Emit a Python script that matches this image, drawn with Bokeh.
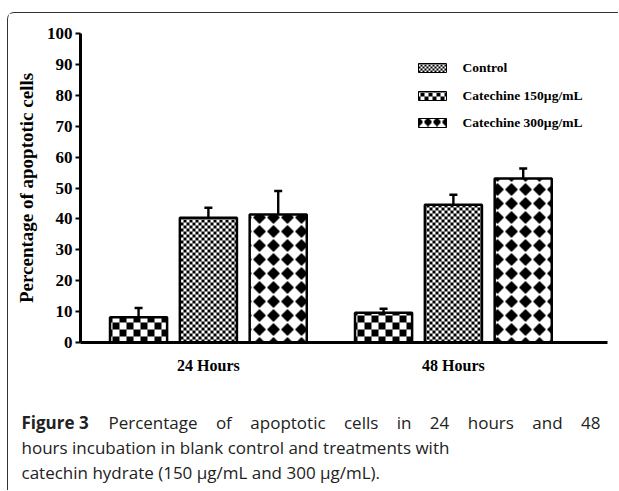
import numpy as np
from bokeh.plotting import figure
from bokeh.layouts import column
from bokeh.models import Range1d, FixedTicker, Whisker, ColumnDataSource, TeeHead
from bokeh.core.properties import value
from bokeh.embed import file_html
from bokeh.resources import INLINE

# ---------------- data ----------------
groups = ["24 Hours", "48 Hours"]
series_names = ["Control", "Catechine 150µg/mL", "Catechine 300µg/mL"]
control = [8.2, 9.6]
cat150 = [40.4, 44.6]
cat300 = [41.4, 53.1]
control_err = [3.0, 1.3]
cat150_err = [3.2, 3.2]
cat300_err = [7.6, 3.2]
y_ticks = [0, 10, 20, 30, 40, 50, 60, 70, 80, 90, 100]

caption_bold = "Figure 3"
caption_line1 = "Percentage of apoptotic cells in 24 hours and 48"
caption_line2 = "hours incubation in blank control and treatments with"
caption_line3 = "catechin hydrate (150 µg/mL and 300 µg/mL)."

# ---------------- geometry (page pixels) ----------------
CH_X, CH_Y = 8, 13            # chart canvas origin on page
CH_W, CH_H = 610, 379
FL, FR, FT, FB = 80, 607, 33, 342   # frame edges on page
X0, X1 = -0.522, 1.629
Y0, Y1 = 0, 100
KX = (FR - FL) / (X1 - X0)
KY = (FB - FT) / (Y1 - Y0)

def dx(px):  # page x -> data x
    return X0 + (px - FL) / KX

def dy(py):  # page y -> data y
    return Y0 + (FB - py) / KY

def pattern_mask(kind, PX, PY, small=False):
    if kind == "fine":
        c = 2 if small else 3
        return ((PX // c) + (PY // c)) % 2 == 0
    if kind == "coarse":
        c = 4 if small else 7
        return ((PX // c) + (PY // c)) % 2 == 0
    t = 9 if small else 14
    u = (PX % t) - t / 2 + 0.5
    v = (PY % t) - t / 2 + 0.5
    return np.abs(u) / (t * 0.44) + np.abs(v) / (t * 0.5) <= 1.0

def pattern_image(kind, left_px, right_px, top_py, bottom_py, small=False):
    xs = np.arange(left_px, right_px)
    ys = np.arange(bottom_py - 1, top_py - 1, -1)  # row 0 at the bottom
    PX, PY = np.meshgrid(xs, ys)
    m = pattern_mask(kind, PX, PY, small)
    return np.where(m, 0xFF000000, 0xFFFFFFFF).astype(np.uint32)

# ---------------- chart figure ----------------
p = figure(width=CH_W, height=CH_H, output_backend="svg", toolbar_location=None,
           x_range=Range1d(X0, X1), y_range=Range1d(Y0, Y1))
p.frame_align = False
p.min_border_left = FL - CH_X
p.min_border_right = CH_X + CH_W - FR
p.min_border_top = FT - CH_Y
p.min_border_bottom = CH_Y + CH_H - FB
p.outline_line_color = None
p.xgrid.visible = False
p.ygrid.visible = False

offsets = [-0.285, 0.0, 0.285]
bar_w = 0.233
values = [control, cat150, cat300]
errors = [control_err, cat150_err, cat300_err]
bar_patterns = ["coarse", "fine", "diamond"]
legend_patterns = ["fine", "coarse", "diamond"]

for vals, errs, off, pat in zip(values, errors, offsets, bar_patterns):
    xs = [i + off for i in range(len(groups))]
    for xc, v in zip(xs, vals):
        lpx = int(round(FL + (xc - bar_w / 2 - X0) * KX))
        rpx = int(round(FL + (xc + bar_w / 2 - X0) * KX))
        tpy = int(round(FB - (v - Y0) * KY))
        img = pattern_image(pat, lpx, rpx, tpy, FB)
        p.image_rgba(image=[img], x=dx(lpx), y=Y0, dw=(rpx - lpx) / KX, dh=(FB - tpy) / KY)
    src = ColumnDataSource(data=dict(x=xs, top=vals, upper=[v + e for v, e in zip(vals, errs)]))
    p.vbar(x="x", top="top", width=bar_w, bottom=0, source=src,
           fill_alpha=0, line_color="black", line_width=2.5)
    w = Whisker(base="x", upper="upper", lower="top", source=src, dimension="height",
                line_color="black", line_width=2.4,
                upper_head=TeeHead(size=8, line_width=2.5, line_color="black"),
                lower_head=None)
    p.add_layout(w)

# legend (swatches + labels)
leg_rows = [67, 95, 122]
sw_l, sw_r, sw_h = 418, 446, 9
for name, pat, ry in zip(series_names, legend_patterns, leg_rows):
    t = ry - sw_h // 2
    b = t + sw_h
    img = pattern_image(pat, sw_l, sw_r, t, b, small=True)
    p.image_rgba(image=[img], x=dx(sw_l), y=dy(b), dw=(sw_r - sw_l) / KX, dh=sw_h / KY)
    p.quad(left=dx(sw_l), right=dx(sw_r), top=dy(t), bottom=dy(b), fill_alpha=0,
           line_color="black", line_width=1)
p.text(x=[dx(462)] * 3, y=[dy(r) for r in leg_rows], text=series_names,
       text_font=value("Liberation Serif"), text_font_style=value("bold"),
       text_font_size=value("13.5px"), text_color="black", text_baseline=value("middle"))

# axes
p.yaxis.ticker = FixedTicker(ticks=y_ticks)
p.yaxis.axis_line_width = 3
p.yaxis.axis_line_color = "black"
p.yaxis.major_tick_line_width = 2
p.yaxis.major_tick_out = 5
p.yaxis.major_tick_in = 0
p.yaxis.minor_tick_line_color = None
p.yaxis.major_label_text_font = "Liberation Serif"
p.yaxis.major_label_text_font_style = "bold"
p.yaxis.major_label_text_font_size = "17px"
p.yaxis.major_label_text_color = "black"
p.yaxis.major_label_standoff = 3
p.yaxis.axis_label = "Percentage of apoptotic cells"
p.yaxis.axis_label_text_font = "Liberation Serif"
p.yaxis.axis_label_text_font_style = "bold"
p.yaxis.axis_label_text_font_size = "19px"
p.yaxis.axis_label_text_color = "black"
p.yaxis.axis_label_standoff = 7

p.xaxis.ticker = FixedTicker(ticks=list(range(len(groups))))
p.xaxis.major_label_overrides = {i: g for i, g in enumerate(groups)}
p.xaxis.axis_line_width = 3
p.xaxis.axis_line_color = "black"
p.xaxis.major_tick_line_color = None
p.xaxis.minor_tick_line_color = None
p.xaxis.major_label_text_font = "Liberation Serif"
p.xaxis.major_label_text_font_style = "bold"
p.xaxis.major_label_text_font_size = "16px"
p.xaxis.major_label_text_color = "black"
p.xaxis.major_label_standoff = 8

# ---------------- caption figure ----------------
CAP_Y = CH_Y + CH_H
CAP_H = 490 - CAP_Y
c = figure(width=CH_W, height=CAP_H, output_backend="svg", toolbar_location=None,
           x_range=Range1d(0, CH_W), y_range=Range1d(CAP_H, 0),
           x_axis_location=None, y_axis_location=None, min_border=0)
c.frame_align = False
c.min_border_left = 0
c.min_border_right = 0
c.min_border_top = 0
c.min_border_bottom = 0
c.outline_line_color = None
c.xgrid.visible = False
c.ygrid.visible = False

CAP_PX = 17
cap_font = value("Open Sans")
cap_size = value(f"{CAP_PX}px")
cap_color = "#222222"
base = [422, 447, 472]

# approximate Open Sans advance widths (em) used to justify the first caption line
_w = {" ": .26, "a": .556, "b": .613, "c": .476, "d": .613, "e": .561, "f": .339, "g": .548,
      "h": .614, "i": .253, "l": .253, "m": .930, "n": .614, "o": .604, "p": .613, "r": .408,
      "s": .477, "t": .353, "u": .614, "y": .502, "w": .778, "P": .601, "0": .572, "1": .572,
      "2": .572, "3": .572, "4": .572, "5": .572, "6": .572, "7": .572, "8": .572, "9": .572}
def text_w(s, bold=False):
    k = 1.07 if bold else 1.0
    return sum(_w.get(ch, .55) for ch in s) * CAP_PX * k

words = [caption_bold] + caption_line1.split(" ")
bold_flags = [True] + [False] * len(caption_line1.split(" "))
L_X, R_X = 21, 600
widths = [text_w(w_, b_) for w_, b_ in zip(words, bold_flags)]
gap = (R_X - L_X - sum(widths)) / (len(words) - 1)
xpos = []
cur = L_X
for wd in widths:
    xpos.append(cur)
    cur += wd + gap

c.text(x=[xpos[0] - CH_X], y=[base[0] - CAP_Y], text=[words[0]], text_font=cap_font,
       text_font_style=value("bold"), text_font_size=cap_size, text_color=cap_color,
       text_baseline=value("alphabetic"))
c.text(x=[x_ - CH_X for x_ in xpos[1:-1]], y=[base[0] - CAP_Y] * (len(words) - 2), text=words[1:-1],
       text_font=cap_font, text_font_size=cap_size, text_color=cap_color,
       text_baseline=value("alphabetic"))
c.text(x=[R_X - CH_X], y=[base[0] - CAP_Y], text=[words[-1]], text_font=cap_font,
       text_font_size=cap_size, text_color=cap_color, text_align=value("right"),
       text_baseline=value("alphabetic"))
c.text(x=[L_X - CH_X] * 2, y=[base[1] - CAP_Y, base[2] - CAP_Y],
       text=[caption_line2, caption_line3], text_font=cap_font,
       text_font_size=cap_size, text_color=cap_color, text_baseline=value("alphabetic"))

layout = column(p, c, spacing=0, margin=(12, 0, 0, 7),
                styles={"border-top": "1px solid #333333", "border-left": "1px solid #333333",
                        "border-top-left-radius": "7px"})

open("out.html", "w").write(file_html(layout, INLINE))
